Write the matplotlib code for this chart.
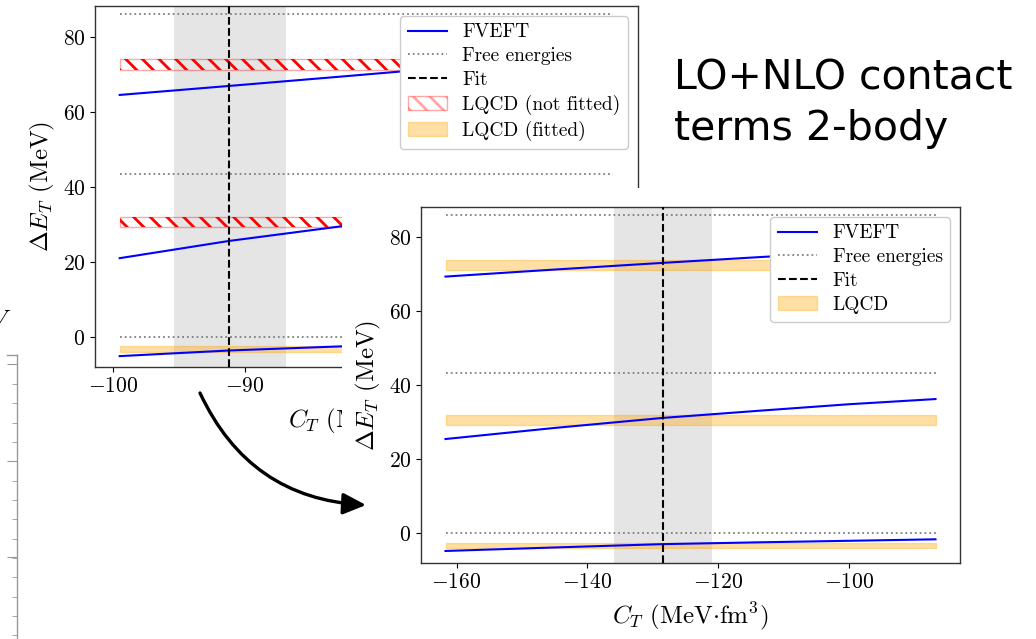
import matplotlib
matplotlib.use('Agg')
import matplotlib.pyplot as plt
from matplotlib.patches import Rectangle, Patch, FancyArrowPatch, ArrowStyle
from matplotlib.lines import Line2D
from matplotlib.ticker import MultipleLocator
import numpy as np

plt.rcParams.update({
    'font.family': 'serif',
    'font.serif': ['cmr10'],
    'mathtext.fontset': 'cm',
    'axes.formatter.use_mathtext': True,
    'hatch.linewidth': 2.0,
    'axes.linewidth': 1.0,
})

# ---------------- data ----------------
# left (first) panel: LO contact fit
ct_left = [-99.5, -91.2, -82.7, -72.0, -62.1]
fveft_left_0 = [-5.1, -3.6, -2.5, -1.4, -0.5]
fveft_left_1 = [21.0, 25.6, 29.5, 33.8, 37.4]
fveft_left_2 = [64.5, 66.9, 69.4, 72.6, 75.5]
fit_left = -91.2
fit_left_band = [-95.4, -86.9]
xtick_step_left = 10

# right (second) panel: LO+NLO contact fit
ct_right = [-161.7, -145.0, -128.5, -113.3, -100.0, -86.75]
fveft_right_0 = [-4.75, -3.8, -2.9, -2.4, -2.0, -1.6]
fveft_right_1 = [25.5, 28.5, 31.2, 33.2, 34.9, 36.3]
fveft_right_2 = [69.4, 71.3, 73.1, 74.7, 76.0, 77.2]
fit_right = -128.5
fit_right_band = [-136.0, -121.0]
xtick_step_right = 20

free_energies = [0.0, 43.4, 86.1]
lqcd_low = [-4.0, 29.4, 71.2]
lqcd_high = [-2.5, 32.0, 74.0]

y_limits = [-8.0, 88.2]
ytick_step = 20

W, H = 1036, 639
fig = plt.figure(figsize=(W / 100, H / 100), dpi=100)


def fx(px):
    return px / W


def fy(py):
    return 1 - py / H


BLUE = 'blue'
ORANGE_FACE = (1.0, 0.647, 0.0, 0.35)
RED_EDGE = (1.0, 0.0, 0.0, 0.35)
HATCH = '\\\\'


def draw_panel(ax, ct, curves, fit, band, fitted_flags, xstep):
    ax.axvspan(band[0], band[1], color='gray', alpha=0.2, lw=0, zorder=1)
    for e in free_energies:
        ax.hlines(e, ct[0], ct[-1], colors='gray', linestyles=':', lw=1.3, zorder=2)
    for lo, hi, fitted in zip(lqcd_low, lqcd_high, fitted_flags):
        if fitted:
            ax.fill_between([ct[0], ct[-1]], lo, hi, facecolor=ORANGE_FACE,
                            edgecolor=ORANGE_FACE, lw=1, zorder=2)
        else:
            ax.fill_between([ct[0], ct[-1]], lo, hi, facecolor='none',
                            edgecolor='red', hatch=HATCH, lw=0, zorder=2)
            ax.fill_between([ct[0], ct[-1]], lo, hi, facecolor='none',
                            edgecolor=RED_EDGE, lw=1, zorder=2)
    for ys in curves:
        ax.plot(ct, ys, color=BLUE, lw=1.5, zorder=3)
    ax.axvline(fit, color='black', ls='--', lw=1.5, zorder=4)
    r = ct[-1] - ct[0]
    ax.set_xlim(ct[0] - 0.05 * r, ct[-1] + 0.05 * r)
    ax.set_ylim(*y_limits)
    ax.xaxis.set_major_locator(MultipleLocator(xstep))
    ax.yaxis.set_major_locator(MultipleLocator(ytick_step))
    ax.set_xlabel(r'$C_T$ (MeV$\cdot$fm$^3$)', fontsize=18, labelpad=6)
    ax.set_ylabel(r'$\Delta E_T$ (MeV)', fontsize=18)
    ax.tick_params(labelsize=15.5)
    for s in ax.spines.values():
        s.set_color('#333333')


h_fveft = Line2D([], [], color=BLUE, lw=1.5)
h_free = Line2D([], [], color='gray', ls=':', lw=1.3)
h_fit = Line2D([], [], color='black', ls='--', lw=1.5)
h_nf = Patch(facecolor='none', edgecolor=RED_EDGE, hatch=HATCH, lw=1)
h_f = Patch(facecolor=ORANGE_FACE, edgecolor=ORANGE_FACE, lw=1)

# partial axes at far left (cut off)
ax0 = fig.add_axes([-0.5, -0.1, 0.5 + fx(17), fy(355) + 0.1])
ax0.set_zorder(0)
ax0.set_ylim(702.9, 355)
ax0.set_xlim(0, 1)
ax0.set_xticks([])
ax0.yaxis.tick_right()
ax0.set_yticks(np.arange(364.0, 703, 96.7))
ax0.set_yticks(np.arange(384.0, 703, 19.34), minor=True)
ax0.tick_params(axis='y', which='both', direction='in', colors='#999999',
                labelright=False, labelleft=False)
ax0.tick_params(axis='y', which='major', length=7)
ax0.tick_params(axis='y', which='minor', length=3.6)
for side in ['left', 'bottom']:
    ax0.spines[side].set_visible(False)
for side in ['right', 'top']:
    ax0.spines[side].set_color('#999999')
ax0.spines['top'].set_bounds(0.981, 1.0)
fig.text(fx(11), fy(327), r'$V$', fontsize=18, ha='right', va='baseline')

# first panel
ax1 = fig.add_axes([fx(95), fy(367), fx(638) - fx(95), fy(6) - fy(367)])
ax1.set_zorder(1)
draw_panel(ax1, ct_left, [fveft_left_0, fveft_left_1, fveft_left_2],
           fit_left, fit_left_band, [True, False, False], xtick_step_left)
ax1.legend([h_fveft, h_free, h_fit, h_nf, h_f],
           ['FVEFT', 'Free energies', 'Fit', 'LQCD (not fitted)', 'LQCD (fitted)'],
           loc='upper right', fontsize=14, labelspacing=0.3, framealpha=1)

# white background of the second picture
cover = Rectangle((fx(342), 0), 1 - fx(342), fy(188), transform=fig.transFigure,
                  facecolor='white', edgecolor='none', zorder=2)
fig.add_artist(cover)

# second panel
ax2 = fig.add_axes([fx(421), fy(563), fx(960) - fx(421), fy(207) - fy(563)])
ax2.set_zorder(3)
draw_panel(ax2, ct_right, [fveft_right_0, fveft_right_1, fveft_right_2],
           fit_right, fit_right_band, [True, True, True], xtick_step_right)
ax2.legend([h_fveft, h_free, h_fit, h_f],
           ['FVEFT', 'Free energies', 'Fit', 'LQCD'],
           loc='upper right', fontsize=14, labelspacing=0.3, framealpha=1)

# curved arrow
arrow = FancyArrowPatch(posA=(fx(200), fy(393)), posB=(fx(366), fy(505)),
                        transform=fig.transFigure, connectionstyle='arc3,rad=0.3',
                        arrowstyle=ArrowStyle('-|>', head_length=14, head_width=6.5),
                        mutation_scale=1, lw=2.4, color='black',
                        shrinkA=0, shrinkB=0, zorder=6)
fig.add_artist(arrow)

# slide text
fig.text(fx(674), fy(89), 'LO+NLO contact', family='DejaVu Sans', fontsize=29.5,
         va='baseline', ha='left', zorder=6)
fig.text(fx(674), fy(140), 'terms 2-body', family='DejaVu Sans', fontsize=29.5,
         va='baseline', ha='left', zorder=6)

fig.savefig('out.png', dpi=100)
